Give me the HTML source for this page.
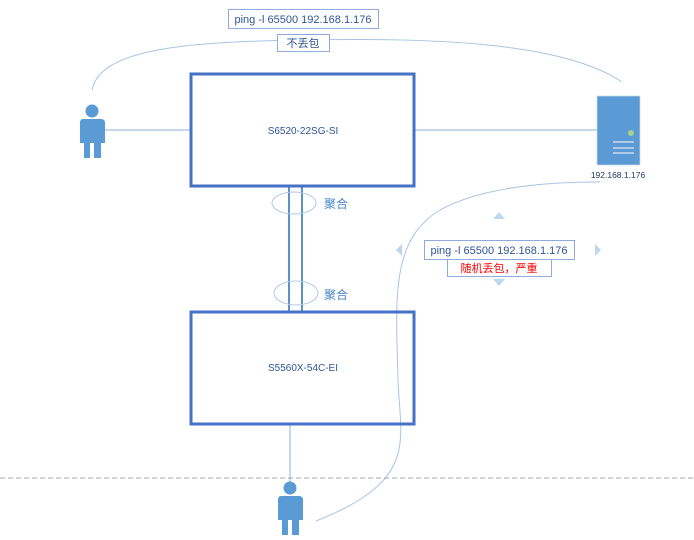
<!DOCTYPE html>
<html><head><meta charset="utf-8"><style>body{margin:0;background:#fff}svg{display:block}</style></head><body>
<svg width="694" height="540" viewBox="0 0 694 540" xmlns="http://www.w3.org/2000/svg" font-family="'Liberation Sans','Noto Sans CJK SC',sans-serif">
<rect width="694" height="540" fill="#fff"/>
<path d="M92,90 C100,50 180,42 300,40 C420,38 560,40 622,82" fill="none" stroke="#a9c4e4" stroke-width="1"/>
<path d="M316,521 C420,480 400,440 398,380 C396,300 390,240 440,210 C480,188 540,182 600,182" fill="none" stroke="#a9c4e4" stroke-width="1"/>
<line x1="105" y1="130" x2="190" y2="130" stroke="#8fb0d6" stroke-width="1"/>
<line x1="415" y1="130" x2="622" y2="130" stroke="#8fb0d6" stroke-width="1"/>
<line x1="290" y1="425" x2="290" y2="482" stroke="#8fb0d6" stroke-width="1"/>
<line x1="289" y1="187" x2="289" y2="311" stroke="#5b8fd0" stroke-width="2"/>
<line x1="302" y1="187" x2="302" y2="311" stroke="#5b8fd0" stroke-width="2"/>
<rect x="191" y="74" width="223" height="112" fill="none" stroke="#4472c4" stroke-width="3"/>
<text x="303" y="134" font-size="10" fill="#2f5597" text-anchor="middle">S6520-22SG-SI</text>
<rect x="191" y="312" width="223" height="112" fill="none" stroke="#4472c4" stroke-width="3"/>
<text x="303" y="371" font-size="10" fill="#2f5597" text-anchor="middle">S5560X-54C-EI</text>
<ellipse cx="294" cy="203" rx="22" ry="11" fill="none" stroke="#b4c7e7" stroke-width="1"/>
<ellipse cx="296" cy="293" rx="22" ry="12" fill="none" stroke="#b4c7e7" stroke-width="1"/>
<text x="324" y="208" font-size="12" fill="#4a86c8">聚合</text>
<text x="324" y="299" font-size="12" fill="#4a86c8">聚合</text>
<line x1="0" y1="478" x2="694" y2="478" stroke="#a6a6a6" stroke-width="1" stroke-dasharray="5,3"/>
<g fill="#5b9bd5">
<circle cx="92" cy="111" r="6.5"/>
<path d="M83,119 H101 Q105,119 105,123 V143 H101 V158 H94 V143 H90 V158 H84 V143 H80 V123 Q80,119 83,119Z"/>
<circle cx="290" cy="488" r="6.5"/>
<path d="M281,496 H299 Q303,496 303,500 V520 H299 V535 H292 V520 H288 V535 H282 V520 H278 V500 Q278,496 281,496Z"/>
</g>
<rect x="597" y="96" width="43" height="69" fill="#5b9bd5" stroke="#c9daf0" stroke-width="0.7"/>
<circle cx="631" cy="133" r="3" fill="#a9d18e"/>
<g stroke="#dfeaf6" stroke-width="1.2"><line x1="613" y1="142" x2="634" y2="142"/><line x1="613" y1="148" x2="634" y2="148"/><line x1="613" y1="153" x2="634" y2="153"/></g>
<text x="618" y="178" font-size="8.5" fill="#1f3864" text-anchor="middle">192.168.1.176</text>
<rect x="228.5" y="9.5" width="150" height="19" fill="#fff" stroke="#8faadc"/>
<text x="303" y="23" font-size="11" fill="#2f5597" text-anchor="middle">ping -l 65500 192.168.1.176</text>
<rect x="277.5" y="34.5" width="52" height="17" fill="#fff" stroke="#8faadc"/>
<text x="303" y="47" font-size="11" fill="#2f5597" text-anchor="middle">不丢包</text>
<g fill="#bdd7ee">
<polygon points="493,219 505,219 499,212"/>
<polygon points="493,279 505,279 499,286"/>
<polygon points="402,244 402,256 396,250"/>
<polygon points="595,244 595,256 601,250"/>
</g>
<rect x="447.5" y="258.5" width="104" height="18" fill="#fff" stroke="#8faadc"/>
<text x="499" y="272" font-size="11" fill="#ff0000" text-anchor="middle">随机丢包，严重</text>
<rect x="424.5" y="240.5" width="150" height="19" fill="#fff" stroke="#8faadc"/>
<text x="499" y="254" font-size="11" fill="#2f5597" text-anchor="middle">ping -l 65500 192.168.1.176</text>
</svg>
</body></html>
